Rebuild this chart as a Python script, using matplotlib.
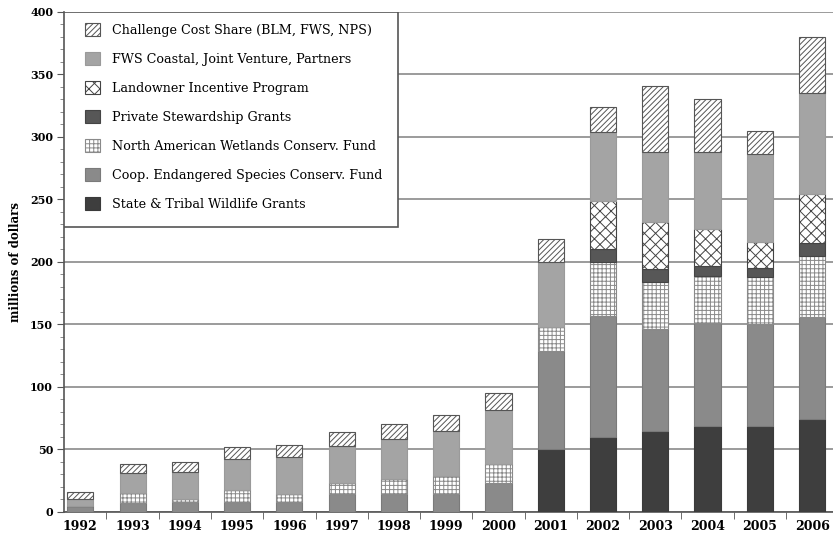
import numpy as np
import matplotlib.pyplot as plt
from matplotlib.patches import Rectangle, Patch

# data (millions of dollars)
years = list(range(1992, 2007))
state_tribal = [0, 0, 0, 0, 0, 0, 0, 0, 0, 50, 60, 65, 69, 69, 74]
coop_esa = [5, 7, 8, 8, 8, 14, 14, 14, 23.5, 79, 97, 81, 82, 81, 82]
nawcf = [0, 8.5, 2, 9.5, 6, 9.5, 12, 14.5, 15, 19, 43, 38, 38, 38, 49]
private_stew = [0, 0, 0, 0, 0, 0, 0, 0, 0, 0, 10, 10, 8, 7, 10]
landowner = [0, 0, 0, 0, 0, 0, 0, 0, 0, 0, 39, 38, 29, 21, 39]
fws_coastal = [5, 16, 22, 24.5, 30, 29.5, 32, 36, 43, 52, 55, 56, 62, 70, 81]
challenge = [5.7, 7, 8.3, 10, 9.5, 11, 12, 13, 13.5, 18, 20, 53, 42, 19, 45]

labels = ["State & Tribal Wildlife Grants",
          "Coop. Endangered Species Conserv. Fund",
          "North American Wetlands Conserv. Fund",
          "Private Stewardship Grants",
          "Landowner Incentive Program",
          "FWS Coastal, Joint Venture, Partners",
          "Challenge Cost Share (BLM, FWS, NPS)"]
series = [state_tribal, coop_esa, nawcf, private_stew, landowner, fws_coastal, challenge]
# (facecolor, hatch, edgecolor)
styles = [("#3e3e3e", None, "#3a3a3a"),
          ("#8a8a8a", None, "#7a7a7a"),
          ("white", "++++", "#8a8a8a"),
          ("#575757", None, "#444444"),
          ("white", "xxx", "#444444"),
          ("#a4a4a4", None, "#9a9a9a"),
          ("white", "//////", "#555555")]

plt.rcParams['font.family'] = ['DejaVu Serif']
plt.rcParams['hatch.linewidth'] = 0.7

fig = plt.figure(figsize=(8.33, 5.37), dpi=100)
ax = fig.add_axes([0.077, 0.0466, 0.923, 0.9311])

x = np.array(years)
bottom = np.zeros(len(years))
handles = []
for vals, lab, (fc, h, ec) in zip(series, labels, styles):
    v = np.array(vals, dtype=float)
    ax.bar(x, v, width=0.5, bottom=bottom, color=fc, hatch=h,
           edgecolor=ec, linewidth=0.8, zorder=3)
    bottom += v
    handles.append(Patch(facecolor=fc, hatch=h, edgecolor=ec, linewidth=0.8, label=lab))

ax.set_xlim(1991.69, 2006.40)
ax.set_ylim(0, 400)
ax.set_yticks(range(0, 401, 50))
ax.set_yticks(range(0, 401, 10), minor=True)
ax.yaxis.grid(True, which='major', color='#8a8a8a', linewidth=1.2, zorder=0)
ax.set_axisbelow(True)

# x ticks: labels at years, tick marks between bars
ax.set_xticks(x)
ax.set_xticklabels([str(y) for y in years], fontweight='bold', fontsize=9)
ax.set_xticks(x[:-1] + 0.5, minor=True)
ax.tick_params(axis='x', which='major', length=0, pad=6)
ax.tick_params(axis='x', which='minor', length=5, color='#555555', direction='out')
ax.tick_params(axis='y', which='major', length=5, color='#555555', labelsize=8, pad=3)
ax.tick_params(axis='y', which='minor', length=3, color='#777777')
for t in ax.get_yticklabels():
    t.set_fontweight('bold')

for s in ['top', 'right']:
    ax.spines[s].set_visible(False)
for s in ['left', 'bottom']:
    ax.spines[s].set_color('#555555')
    ax.spines[s].set_linewidth(1.2)

ax.set_ylabel("millions of dollars", fontweight='bold', fontsize=8.5, labelpad=6)

# legend box
ax.add_patch(Rectangle((0, 0.57), 0.434, 0.43, transform=ax.transAxes,
                       facecolor='white', edgecolor='#555555', linewidth=1.2, zorder=4))
leg = ax.legend(handles=handles[::-1], loc='upper left', bbox_to_anchor=(0.012, 1.0),
                frameon=False, fontsize=9.2, handlelength=1.15, handleheight=1.15,
                handletextpad=1.0, labelspacing=1.2, borderpad=0.4)
leg.set_zorder(5)

fig.savefig("out.png", dpi=100, facecolor='white')
